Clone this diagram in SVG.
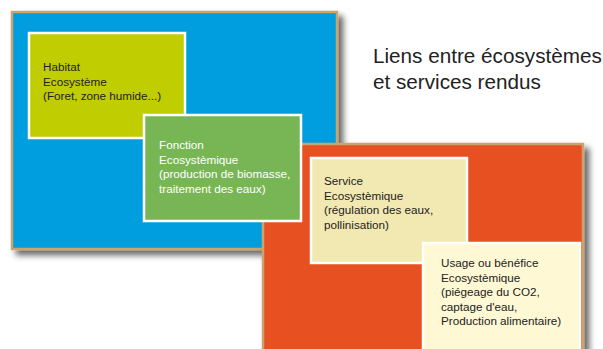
<svg xmlns="http://www.w3.org/2000/svg" width="603" height="349" viewBox="0 0 603 349">
<defs>
<filter id="sh" x="-10%" y="-10%" width="130%" height="130%">
<feGaussianBlur in="SourceAlpha" stdDeviation="3"/>
<feOffset dx="5" dy="5" result="b"/>
<feFlood flood-color="#000" flood-opacity="0.6"/>
<feComposite in2="b" operator="in"/>
<feMerge><feMergeNode/><feMergeNode in="SourceGraphic"/></feMerge>
</filter>
<style>
.t{font-family:"Liberation Sans",Arial,sans-serif;font-size:11.7px;fill:#222;}
.w{fill:#fff;}
.frame{stroke:#c9a470;stroke-width:2.5;}
.box{stroke:#fff;stroke-width:2.5;}
.title{font-family:"Liberation Sans",Arial,sans-serif;font-size:20.7px;fill:#222;}
</style>
</defs>
<rect width="603" height="349" fill="#fff"/>
<g id="blue-frame">
<rect class="frame" x="12" y="12" width="325" height="237" fill="#009ede" filter="url(#sh)"/>
</g>
<g id="orange-frame">
<rect class="frame" x="263" y="144" width="320" height="215" fill="#e75120" filter="url(#sh)"/>
</g>
<g id="habitat">
<rect class="box" x="29" y="33" width="156" height="105" fill="#c0cd00"/>
<text class="t"><tspan x="43" y="71">Habitat</tspan><tspan x="43" y="85.5">Ecosystème</tspan><tspan x="43" y="100">(Foret, zone humide...)</tspan></text>
</g>
<g id="fonction">
<rect class="box" x="144" y="115" width="157" height="106" fill="#78b655"/>
<text class="t w"><tspan x="159" y="149">Fonction</tspan><tspan x="159" y="163.5">Ecosystèmique</tspan><tspan x="159" y="178">(production de biomasse,</tspan><tspan x="159" y="192.5">traitement des eaux)</tspan></text>
</g>
<g id="service">
<rect class="box" x="311" y="158" width="156" height="105" fill="#f2e9b2"/>
<text class="t"><tspan x="324" y="185">Service</tspan><tspan x="324" y="199.5">Ecosystèmique</tspan><tspan x="324" y="214">(régulation des eaux,</tspan><tspan x="324" y="228.5">pollinisation)</tspan></text>
</g>
<g id="usage">
<rect class="box" x="423" y="243" width="157" height="120" fill="#fef8d5"/>
<text class="t"><tspan x="441" y="267">Usage ou bénéfice</tspan><tspan x="441" y="281.5">Ecosystèmique</tspan><tspan x="441" y="296">(piégeage du CO2,</tspan><tspan x="441" y="310.5">captage d'eau,</tspan><tspan x="441" y="325">Production alimentaire)</tspan></text>
</g>
<g id="title">
<text class="title"><tspan x="373" y="62.5">Liens entre écosystèmes</tspan><tspan x="373" y="89">et services rendus</tspan></text>
</g>
<g id="connectors"></g>
</svg>
